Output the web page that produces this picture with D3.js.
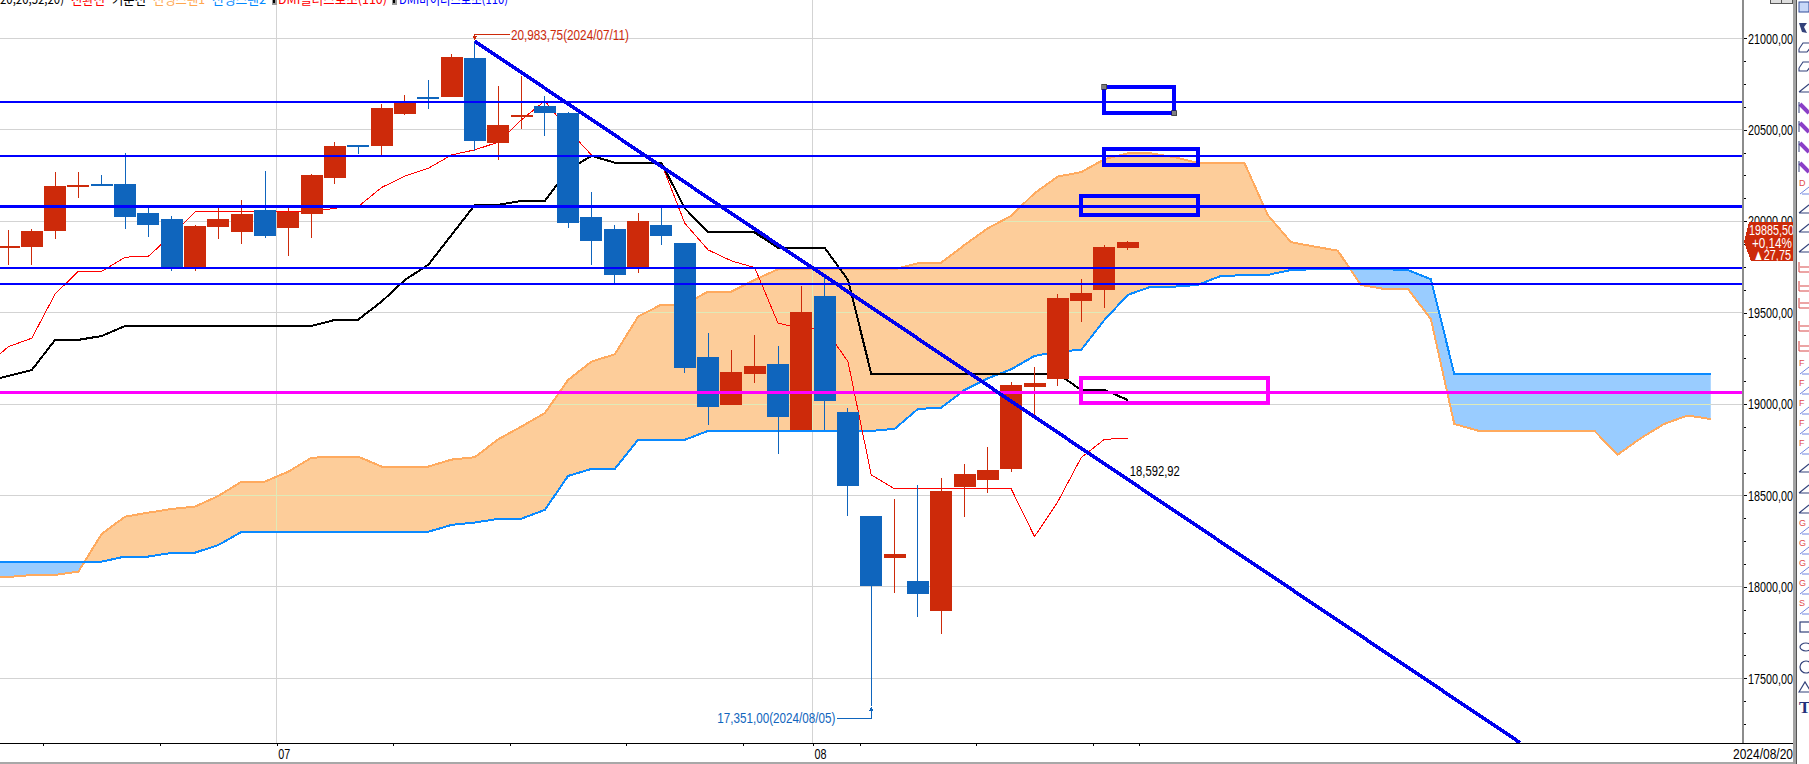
<!DOCTYPE html>
<html lang="ko"><head><meta charset="utf-8">
<script src="https://cdn.jsdelivr.net/npm/d3@7"></script>
<style>
html,body{margin:0;padding:0;background:#fff;overflow:hidden}
svg{display:block}
text{font-family:"Liberation Sans Narrow","Liberation Sans",Arial,sans-serif;font-size:15px}
.kr{font-family:"Noto Sans CJK KR","Noto Sans",sans-serif;font-size:13px}
</style></head><body>
<svg id="c" width="1809" height="764"></svg>
<script>
// ---------- data ----------
const opens  = [19854,19859,19946,20187,20204,20204,20045,20012,19744,19969,19941,20062,19963,20040,20237,20417,20412,20587,20680,20680,20893,20428,20576,20630,20592,20023,19958,19744,19979,19881,19258,18995,19165,19219,18858,19591,18957,18388,18158,18032,17868,18547,18585,18645,19093,19137,19564,19624,19854];
const closes = [19865,19946,20193,20198,20193,20023,19979,19742,19974,20012,20040,19919,20051,20253,20412,20406,20619,20652,20674,20898,20439,20526,20581,20592,19990,19892,19706,20001,19919,19197,18984,19176,19208,18929,19504,19017,18552,18005,18180,17961,18525,18618,18640,19104,19115,19580,19608,19859,19885.5];
const highs  = [19952,19958,20269,20269,20253,20371,20076,20029,19979,20076,20116,20275,20076,20258,20433,20417,20641,20690,20772,20915,20983.75,20740,20794,20685,20597,20160,19979,20045,20076,19881,19389,19296,19378,19318,19646,19701,18979,18388,18481,18558,18596,18672,18765,19121,19203,19602,19684,19870,19892];
const lows   = [19761,19761,19903,20127,20193,19958,19914,19730,19730,19903,19876,19908,19810,19908,20204,20368,20362,20581,20614,20680,20384,20335,20505,20466,19963,19761,19660,19717,19870,19170,18886,18995,19117,18727,18858,18858,18388,17351,17967,17836,17743,18383,18514,18629,18935,19099,19449,19526,19843];
// lines start one bar before the first candle
const conversionLine = [19205,19314,19360,19602,19726,19726,19803,19808,19925,20051,20051,20051,20051,20051,20051,20071,20080,20184,20247,20289,20362,20390,20432,20554,20658,20499,20362,20317,20320,20317,19989,19843,19783,19746,19442,19414,19414,19232,18612,18536,18536,18536,18536,18536,18536,18275,18466,18707,18807,18813];
const baseLine = [19123,19154,19186,19351,19351,19372,19427,19427,19427,19427,19427,19427,19427,19427,19427,19460,19462,19560,19679,19761,19925,20089,20089,20111,20111,20280,20357,20320,20320,20320,20071,19938,19938,19938,19854,19854,19854,19679,19165,19165,19165,19165,19165,19165,19165,19165,19165,19077,19077,19022];
const leadingSpan1 = [18054,18054,18065,18065,18084,18290,18384,18406,18426,18439,18497,18576,18576,18630,18707,18709,18712,18658,18658,18658,18696,18709,18807,18877,18950,19132,19232,19272,19478,19544,19544,19615,19615,19679,19737,19737,19737,19737,19737,19737,19770,19773,19870,19961,20029,20153,20244,20268,20339,20371,20371,20350,20319,20319,20319,20034,19885,19861,19839,19651,19629,19631,19464,18891,18855,18855,18855,18855,18855,18855,18722,18813,18891,18937,18918];
const leadingSpan2 = [18138,18138,18138,18138,18138,18138,18166,18166,18186,18187,18229,18301,18301,18301,18301,18301,18301,18301,18301,18301,18339,18352,18372,18373,18421,18607,18645,18645,18804,18804,18804,18853,18853,18853,18853,18853,18853,18853,18853,18864,18973,18980,19077,19141,19190,19263,19287,19296,19460,19597,19642,19642,19651,19701,19704,19706,19733,19737,19737,19737,19737,19733,19682,19165,19165,19165,19165,19165,19165,19165,19165,19165,19165,19165,19165];
const supportLevels = [20651,20356,20081,19744,19656];
const supportWidths = [2,2,3,2,2];
const pinkLevel = 19064;
const trendBars = [20,64.83];
const trendPrices = [20983.75,17147];
// zones: first bar, last bar, top price, bottom price
const zoneBarsFrom = [47,47,46,46];
const zoneBarsTo   = [50,51,51,54];
const zoneTops     = [20734,20392,20135,19140];
const zoneBottoms  = [20591,20307,20034,19006];
const zoneColors   = ["#0000ff","#0000ff","#0000ff","#ff00ff"];
const priceTicks = [21000,20500,20000,19500,19000,18500,18000,17500];
const minorTicks = [20875,20750,20625,20375,20250,20125,19875,19750,19625,19375,19250,19125,18875,18750,18625,18375,18250,18125,17875,17750,17625,17375,17250];
const timeTicks = [1.5,6.5,11.5,16.5,21.5,26.5,31.5,34.5,36.5,41.5,46.5,48.5];
const monthGrid = [11.5,34.5];
const monthLabels = {11.5:"07",34.5:"08"};
const legendNames = ["20,20,52,20)","전환선","기준선","선행스팬1","선행스팬2","DMI플러스보조(110)","DMI마이너스보조(110)"];
const legendColors = ["#000","#ff0000","#000","#ffa64d","#0088ff","#ff0000","#0000ff"];
const legendX = [0,71,112,153,212,278,399];
const legendW = [64,34,34,52,54,109,109];
const lastPrice = "19885,50", lastPct = "+0,14%", lastChg = "▲27,75";
const toolY = [7,28,48,67,87,108,127,147,167,187,208,227,247,267,286,303,326,346,367,387,407,427,447,467,488,508,527,547,567,587,607,627,647,667,687,707];
const toolTag = ["","","","","","","","","","D","","","","","","","","","F","F","F","F","F","","","","G","G","G","G","S","S","","","",""];

// ---------- scales ----------
const W=1809,H=764, axisX=1743, floorY=743;
const x=d3.scaleLinear().domain([0,48]).range([8.5,1127.8]);
const y=d3.scaleLinear().domain([21000,17500]).range([38.3,678.3]);
const svg=d3.select("#c").attr("shape-rendering","crispEdges");
const RED="#cd2a0a",BLUE="#0f65bd";
const defs=svg.append("defs");
defs.append("clipPath").attr("id","plot").append("rect").attr("x",0).attr("y",0).attr("width",axisX).attr("height",floorY);

// grid
const grid=svg.append("g").attr("stroke","#d3d3d3").attr("stroke-width",1);
grid.selectAll("line.h").data(priceTicks).join("line").attr("class","h").attr("x1",0).attr("x2",axisX).attr("y1",d=>y(d)).attr("y2",d=>y(d));
grid.selectAll("line.v").data(monthGrid).join("line").attr("class","v").attr("x1",d=>x(d)).attr("x2",d=>x(d)).attr("y1",0).attr("y2",floorY);

// cloud
const plot=svg.append("g").attr("clip-path","url(#plot)");
const bars1=leadingSpan1.map((v,i)=>({i:i-1,a:v,b:leadingSpan2[i]}));
const line=(acc)=>d3.line().x(d=>x(d.i)).y(acc);
const areaAB=d3.area().x(d=>x(d.i)).y0(d=>y(d.a)).y1(d=>y(d.b));
defs.append("clipPath").attr("id","aboveB").append("path").attr("d",d3.area().x(d=>x(d.i)).y0(0).y1(d=>y(d.b))(bars1));
defs.append("clipPath").attr("id","belowB").append("path").attr("d",d3.area().x(d=>x(d.i)).y0(floorY).y1(d=>y(d.b))(bars1));
defs.append("clipPath").attr("id","cloud").append("path").attr("d",areaAB(bars1));
plot.append("g").attr("clip-path","url(#aboveB)").append("path").attr("d",areaAB(bars1)).attr("fill","#fdcd9a");
plot.append("g").attr("clip-path","url(#belowB)").append("path").attr("d",areaAB(bars1)).attr("fill","#99ccff");
// pale grid seen through the cloud
const pale=plot.append("g").attr("clip-path","url(#cloud)").attr("stroke","#dfeab8").attr("stroke-width",1);
pale.selectAll("line.h").data(priceTicks).join("line").attr("class","h").attr("x1",0).attr("x2",axisX).attr("y1",d=>y(d)).attr("y2",d=>y(d));
pale.selectAll("line.v").data(monthGrid).join("line").attr("class","v").attr("x1",d=>x(d)).attr("x2",d=>x(d)).attr("y1",0).attr("y2",floorY);
plot.append("path").attr("d",line(d=>y(d.a))(bars1)).attr("fill","none").attr("stroke","#ffaa5e").attr("stroke-width",2);
plot.append("path").attr("d",line(d=>y(d.b))(bars1)).attr("fill","none").attr("stroke","#0a8aff").attr("stroke-width",2);

// conversion and base lines
const seq=(arr)=>arr.map((v,i)=>({i:i-1,v}));
plot.append("path").attr("d",line(d=>y(d.v))(seq(conversionLine))).attr("fill","none").attr("stroke","#ff0000").attr("stroke-width",1);
plot.append("path").attr("d",line(d=>y(d.v))(seq(baseLine))).attr("fill","none").attr("stroke","#000").attr("stroke-width",2);

// candles
const candles=opens.map((o,i)=>({i,o,c:closes[i],h:highs[i],l:lows[i]}));
const col=d=>d.c>=d.o?RED:BLUE;
const cg=plot.append("g");
cg.selectAll("line").data(candles).join("line").attr("x1",d=>x(d.i)).attr("x2",d=>x(d.i)).attr("y1",d=>y(d.h)).attr("y2",d=>y(d.l)).attr("stroke",col).attr("stroke-width",1);
cg.selectAll("rect").data(candles).join("rect").attr("x",d=>x(d.i)-11).attr("width",22)
  .attr("y",d=>y(Math.max(d.o,d.c))).attr("height",d=>Math.max(2,y(Math.min(d.o,d.c))-y(Math.max(d.o,d.c)))).attr("fill",col);

// horizontal levels
plot.selectAll("line.lvl").data(supportLevels).join("line").attr("class","lvl").attr("x1",0).attr("x2",axisX).attr("y1",d=>y(d)).attr("y2",d=>y(d)).attr("stroke","#0000ff").attr("stroke-width",(d,i)=>supportWidths[i]);
plot.append("line").attr("x1",0).attr("x2",axisX).attr("y1",y(pinkLevel)).attr("y2",y(pinkLevel)).attr("stroke","#ff00ff").attr("stroke-width",2.5);

// zones
plot.selectAll("rect.zone").data(zoneTops).join("rect").attr("class","zone")
 .attr("x",(d,i)=>x(zoneBarsFrom[i])).attr("width",(d,i)=>x(zoneBarsTo[i])-x(zoneBarsFrom[i]))
 .attr("y",d=>y(d)).attr("height",(d,i)=>y(zoneBottoms[i])-y(d))
 .attr("fill","none").attr("stroke",(d,i)=>zoneColors[i]).attr("stroke-width",4);
// handles on first zone
plot.selectAll("rect.hd").data([[zoneBarsFrom[0],zoneTops[0]],[zoneBarsTo[0],zoneBottoms[0]]]).join("rect").attr("class","hd")
 .attr("x",d=>x(d[0])-2.5).attr("y",d=>y(d[1])-2.5).attr("width",5).attr("height",5).attr("fill","#808080").attr("stroke","#222").attr("stroke-width",.6);

// trend line
plot.append("line").attr("x1",x(trendBars[0])).attr("y1",y(trendPrices[0])).attr("x2",x(trendBars[1])).attr("y2",y(trendPrices[1])).attr("stroke","#0000ee").attr("stroke-width",3.6);

// annotations
const note=(t,px,py,w,c)=>svg.append("text").text(t).attr("x",px).attr("y",py).attr("dominant-baseline","central").attr("textLength",w).attr("lengthAdjust","spacingAndGlyphs").attr("fill",c);
const hx=x(20), lx=x(37);
svg.append("path").attr("d",`M${hx},${y(20983.75)-2}V${y(20983.75)-7}H${hx+35}`).attr("fill","none").attr("stroke",RED);
svg.append("path").attr("d",`M${hx-2},${y(20983.75)-5}L${hx},${y(20983.75)-1}L${hx+2},${y(20983.75)-5}Z`).attr("fill",RED);
note("20,983,75(2024/07/11)",hx+36,y(20983.75)-7,118,RED);
svg.append("path").attr("d",`M${lx},${y(17351)+3}V${y(17351)+13}H${lx-34}`).attr("fill","none").attr("stroke",BLUE);
svg.append("path").attr("d",`M${lx-2},${y(17351)+5}L${lx},${y(17351)+1}L${lx+2},${y(17351)+5}Z`).attr("fill",BLUE);
note("17,351,00(2024/08/05)",lx-154,y(17351)+12,118,BLUE);
note("18,592,92",x(48)+2,y(18635),50,"#000");

// right axis
const fmt=d=>d.toFixed(2).replace(".",",");
const yAxis=svg.append("g").attr("transform",`translate(${axisX},0)`).call(d3.axisRight(y).tickValues(priceTicks).tickFormat(fmt).tickSize(4).tickPadding(1));
yAxis.select(".domain").remove();
yAxis.selectAll("line").attr("stroke","#000");
yAxis.selectAll("text").attr("x",5).attr("fill","#000").attr("textLength",45).attr("lengthAdjust","spacingAndGlyphs").attr("text-anchor","start");
const yMinor=svg.append("g").attr("transform",`translate(${axisX},0)`).call(d3.axisRight(y).tickValues(minorTicks).tickFormat("").tickSize(3));
yMinor.select(".domain").remove();
yMinor.selectAll("line").attr("stroke","#000");
svg.append("rect").attr("x",axisX-1).attr("y",0).attr("width",2).attr("height",floorY).attr("fill","#8c8c8c");

// bottom axis
svg.append("line").attr("x1",0).attr("x2",1793).attr("y1",floorY).attr("y2",floorY).attr("stroke","#000").attr("stroke-width",1);
const xAxis=svg.append("g").attr("transform",`translate(0,${floorY})`).call(d3.axisBottom(x).tickValues(timeTicks).tickFormat(d=>monthLabels[d]||"").tickSize(3).tickPadding(2));
xAxis.select(".domain").remove();
xAxis.selectAll("line").attr("stroke","#000");
xAxis.selectAll("text").filter(d=>!monthLabels[d]).remove();
xAxis.selectAll("text").attr("fill","#000").attr("text-anchor","start").attr("x",1).attr("y",10).attr("dy",0).attr("dominant-baseline","central").attr("textLength",12).attr("lengthAdjust","spacingAndGlyphs");
note("2024/08/20",1733,753,60,"#000");

// last price badge
const by=y(19885.5);
svg.append("path").attr("d",d3.line()([[1744,by],[1749,by-20],[1794,by-20],[1794,by+19],[1751,by+19]])+"Z").attr("fill",RED);
note(lastPrice,1749,by-13,45,"#fff");
note(lastPct,1752,by,40,"#fff");
note(lastChg,1753,by+12,38,"#fff");

// cut-off legend along top edge
svg.selectAll("text.kr").data(legendNames).join("text").attr("class","kr").text(d=>d).attr("x",(d,i)=>legendX[i]).attr("y",4).attr("fill",(d,i)=>legendColors[i]).attr("textLength",(d,i)=>legendW[i]).attr("lengthAdjust","spacingAndGlyphs");
[272,392].forEach(px=>{svg.append("rect").attr("x",px).attr("y",0).attr("width",5).attr("height",5).attr("fill","#999");svg.append("rect").attr("x",px+1).attr("y",0).attr("width",2).attr("height",3).attr("fill","#000");});

// window furniture
[1770,1781].forEach(px=>svg.append("rect").attr("x",px).attr("y",-1).attr("width",11).attr("height",4).attr("fill","#ddd").attr("stroke","#555"));
svg.append("rect").attr("x",0).attr("y",762).attr("width",1793).attr("height",2).attr("fill","#a8a8a8");
svg.append("rect").attr("x",1793).attr("y",0).attr("width",3).attr("height",H).attr("fill","#a3a3a3");
svg.append("rect").attr("x",1796).attr("y",0).attr("width",1).attr("height",H).attr("fill","#555");

// drawing toolbar (decorative glyphs)
const tb=svg.append("g").attr("shape-rendering","auto");
toolY.forEach((ty,k)=>{
  const g=tb.append("g").attr("transform",`translate(1799,${ty})`);
  const tag=toolTag[k];
  if(k==0){g.append("rect").attr("x",0).attr("y",-5).attr("width",10).attr("height",10).attr("fill","#c8d8f8").attr("stroke","#334d99");return;}
  if(k==1){g.append("path").attr("d","M0,-5L8,-5L5,-1L8,5L3,4Z").attr("fill","#33417a");return;}
  if(k==2||k==3){g.append("path").attr("d","M0,1L4,-5H12M0,1V4H8L12,-1").attr("fill","none").attr("stroke","#33417a").attr("stroke-width",1.1);return;}
  if(k>=5&&k<=8){g.append("path").attr("d","M1,-4L10,5").attr("stroke","#8a3fc7").attr("stroke-width",4);g.append("path").attr("d","M0,-6V5").attr("stroke","#33417a");return;}
  if(k==31){g.append("rect").attr("x",1).attr("y",-5).attr("width",10).attr("height",10).attr("fill","none").attr("stroke","#33417a").attr("stroke-width",1.2);return;}
  if(k==32||k==33){g.append("ellipse").attr("cx",7).attr("cy",0).attr("rx",6).attr("ry",k==33?6:4).attr("fill","none").attr("stroke","#33417a").attr("stroke-width",1.2);return;}
  if(k==34){g.append("path").attr("d","M0,5L6,-5L12,5Z").attr("fill","none").attr("stroke","#33417a").attr("stroke-width",1.2);return;}
  if(k==35){g.append("text").text("T").attr("x",0).attr("y",6).attr("fill","#23317a").style("font-family","Liberation Serif").style("font-size","17px").style("font-weight","bold");return;}
  if(tag){g.append("text").text(tag).attr("x",0).attr("y",-1).attr("fill","#e24a4a").style("font-size","9px");
    g.append("path").attr("d","M1,7L10,0M3,7H10").attr("stroke","#6f85e0").attr("fill","none");return;}
  const red=k>=13&&k<=17;
  g.append("path").attr("d",red?"M0,-5V5M1,0H10M0,5H10":"M0,5L10,-3M0,5H10").attr("stroke",red?"#d94a4a":"#33417a").attr("fill","none").attr("stroke-width",1.1);
});
</script>
</body></html>
